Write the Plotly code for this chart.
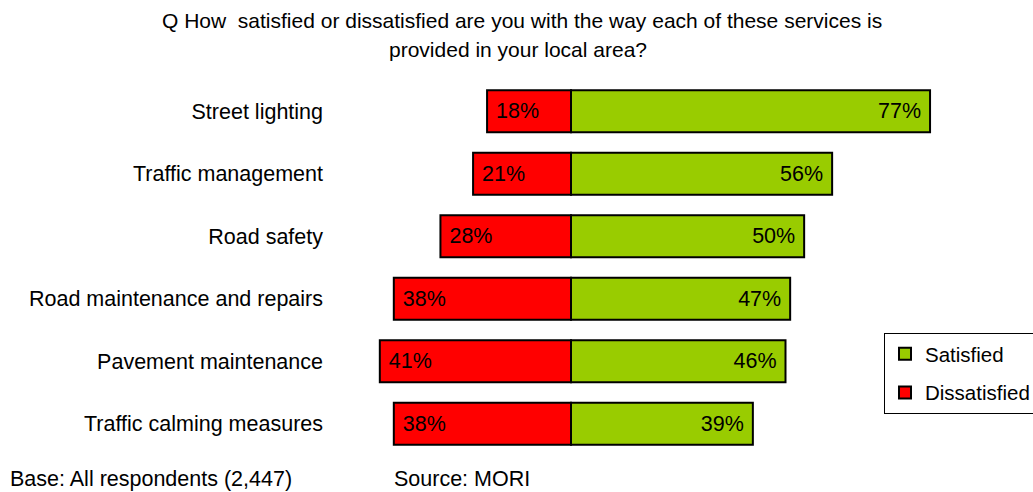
import plotly.graph_objects as go

categories = [
    "Street lighting",
    "Traffic management",
    "Road safety",
    "Road maintenance and repairs",
    "Pavement maintenance",
    "Traffic calming measures",
]
satisfied = [77, 56, 50, 47, 46, 39]
dissatisfied = [18, 21, 28, 38, 41, 38]

FONT = "Liberation Sans, Arial, sans-serif"
FS = 21.5

# plot-area geometry (pixels)
L, R, T, B = 330, 13, 80, 37
W, H = 1033, 492
PW = W - L - R
PH = H - T - B
ZERO_PX = 571
PX_PER_UNIT = 4.663
x0 = (L - ZERO_PX) / PX_PER_UNIT
x1 = (W - R - ZERO_PX) / PX_PER_UNIT


def px_x(p):
    return (p - L) / PW


def px_y(p):
    return (H - B - p) / PH


fig = go.Figure()
fig.add_trace(go.Bar(
    name="Satisfied",
    y=categories,
    x=satisfied,
    orientation="h",
    marker=dict(color="#99CC00", line=dict(color="#000000", width=2)),
    text=[f"{v}%\u00a0" for v in satisfied],
    textposition="inside",
    insidetextanchor="end",
    textfont=dict(family=FONT, size=FS, color="#000000"),
    legendgroup="s",
    hoverinfo="skip",
))
fig.add_trace(go.Bar(
    name="Dissatisfied",
    y=categories,
    x=[-v for v in dissatisfied],
    orientation="h",
    marker=dict(color="#FF0000", line=dict(color="#000000", width=2)),
    text=[f"\u00a0{v}%" for v in dissatisfied],
    textposition="inside",
    insidetextanchor="end",
    textfont=dict(family=FONT, size=FS, color="#000000"),
    legendgroup="d",
    hoverinfo="skip",
))

fig.update_layout(
    width=W,
    height=H,
    autosize=False,
    barmode="relative",
    bargap=0.33,
    paper_bgcolor="white",
    plot_bgcolor="white",
    margin=dict(l=L, r=R, t=T, b=B, autoexpand=False),
    font=dict(family=FONT, size=FS, color="#000000"),
    xaxis=dict(range=[x0, x1], visible=False, showgrid=False, zeroline=False),
    yaxis=dict(
        autorange="reversed",
        showgrid=False,
        zeroline=False,
        showline=False,
        ticks="",
        ticklabelstandoff=6,
        tickfont=dict(family=FONT, size=FS, color="#000000"),
    ),
    showlegend=True,
    legend=dict(
        x=px_x(884),
        y=px_y(333),
        xanchor="left",
        yanchor="top",
        bgcolor="white",
        bordercolor="#000000",
        borderwidth=1,
        traceorder="grouped",
        tracegroupgap=9,
        font=dict(family=FONT, size=20.5, color="#000000"),
    ),
    annotations=[
        dict(
            text="Q How  satisfied or dissatisfied are you with the way each of these services is",
            x=px_x(522), y=px_y(20), xref="paper", yref="paper",
            xanchor="center", yanchor="middle", showarrow=False,
            font=dict(family=FONT, size=21),
        ),
        dict(
            text="provided in your local area?",
            x=px_x(518), y=px_y(50), xref="paper", yref="paper",
            xanchor="center", yanchor="middle", showarrow=False,
            font=dict(family=FONT, size=21),
        ),
        dict(
            text="Base: All respondents (2,447)",
            x=px_x(8), y=px_y(479), xref="paper", yref="paper",
            xanchor="left", yanchor="middle", showarrow=False,
            font=dict(family=FONT, size=FS),
        ),
        dict(
            text="Source: MORI",
            x=px_x(392), y=px_y(479), xref="paper", yref="paper",
            xanchor="left", yanchor="middle", showarrow=False,
            font=dict(family=FONT, size=FS),
        ),
    ],
)

fig.write_html(
    "out.html",
    config={"responsive": False, "displayModeBar": False},
    post_script="document.body.style.margin='0';document.body.style.padding='0';",
)
